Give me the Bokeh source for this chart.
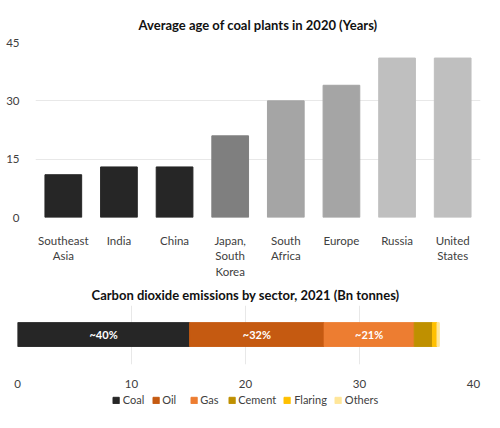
import numpy as np
from bokeh.plotting import figure
from bokeh.layouts import column
from bokeh.models import ColumnDataSource, FixedTicker, Range1d, Legend, LegendItem
from bokeh.core.properties import value
from bokeh.embed import file_html
from bokeh.resources import INLINE

# ---------------- data ----------------
countries = ["Southeast\nAsia", "India", "China", "Japan,\nSouth\nKorea",
             "South\nAfrica", "Europe", "Russia", "United\nStates"]
ages = [11, 13, 13, 21, 30, 34, 41, 41]
age_ticks = [0, 15, 30, 45]

sectors = ["Coal", "Oil", "Gas", "Cement", "Flaring", "Others"]
emissions = [15.1, 11.8, 7.9, 1.6, 0.4, 0.2]
share_labels = ["~40%", "~32%", "~21%"]
emission_ticks = [0, 10, 20, 30, 40]

# ---------------- styles ----------------
bar_colors = ["#262626", "#262626", "#262626", "#7f7f7f",
              "#a5a5a5", "#a5a5a5", "#bfbfbf", "#bfbfbf"]
sector_colors = ["#262626", "#c55a11", "#ed7d31", "#bf9000", "#ffc000", "#ffe699"]
FONT = "Lato"
GRID = "#e8e8e8"
TXT = "#404040"

W = 500

# ---------------- chart 1 ----------------
p1 = figure(x_range=countries, y_range=Range1d(0, 45), width=W, height=280,
            output_backend="svg", toolbar_location=None,
            title="Average age of coal plants in 2020 (Years)",
            min_border_left=35, min_border_right=20, min_border_top=42,
            min_border_bottom=57)
src1 = ColumnDataSource(dict(x=countries, top=ages, color=bar_colors))
p1.vbar(x="x", top="top", width=0.66, color="color", source=src1)
p1.title.align = "center"
p1.title.text_font = FONT
p1.title.text_font_size = "13px"
p1.title.text_color = "#111111"
p1.title.text_font_style = "bold"
p1.title.standoff = 20
p1.outline_line_color = None
p1.xgrid.grid_line_color = None
p1.ygrid.grid_line_color = GRID
p1.yaxis.ticker = FixedTicker(ticks=age_ticks)
for ax in (p1.xaxis, p1.yaxis):
    ax.axis_line_color = None
    ax.major_tick_line_color = None
    ax.minor_tick_line_color = None
    ax.major_label_text_font = FONT
    ax.major_label_text_font_size = "11.5px"
    ax.major_label_text_color = TXT
p1.yaxis.major_label_standoff = 10
p1.xaxis.major_label_standoff = 10
p1.x_range.range_padding = 0

# ---------------- chart 2 ----------------
p2 = figure(x_range=Range1d(0, 40), y_range=Range1d(0, 1), width=W, height=110,
            output_backend="svg", toolbar_location=None, y_axis_location=None,
            title="Carbon dioxide emissions by sector, 2021 (Bn tonnes)",
            min_border_left=17, min_border_right=27, min_border_top=25,
            min_border_bottom=23)
vals = np.array(emissions)
rights = np.cumsum(vals)
lefts = rights - vals
src2 = ColumnDataSource(dict(left=lefts.tolist(), right=rights.tolist(),
                             y=[0.508] * len(vals), color=sector_colors))
p2.hbar(y="y", left="left", right="right", height=0.403, color="color", source=src2)
mids = ((lefts + rights) / 2)[:3].tolist()
src3 = ColumnDataSource(dict(x=mids, y=[0.508] * 3, lab=share_labels))
p2.text(x="x", y="y", text="lab", source=src3, text_color="white",
        text_align="center", text_baseline="middle", text_font_size="11px",
        text_font_style="bold", text_font=value(FONT))
p2.title.align = "center"
p2.title.text_font = FONT
p2.title.text_font_size = "13px"
p2.title.text_color = "#111111"
p2.title.text_font_style = "bold"
p2.title.standoff = 6
p2.outline_line_color = None
p2.ygrid.grid_line_color = None
p2.xgrid.grid_line_color = GRID
p2.xaxis.ticker = FixedTicker(ticks=emission_ticks)
p2.xaxis.axis_line_color = None
p2.xaxis.major_tick_line_color = None
p2.xaxis.minor_tick_line_color = None
p2.xaxis.major_label_text_font = FONT
p2.xaxis.major_label_text_font_size = "11.5px"
p2.xaxis.major_label_text_color = TXT
p2.xaxis.major_label_standoff = 9

# ---------------- legend (own strip) ----------------
p3 = figure(x_range=Range1d(0, 1), y_range=Range1d(0, 1), width=W, height=38,
            output_backend="svg", toolbar_location=None,
            x_axis_location=None, y_axis_location=None,
            min_border_left=0, min_border_right=0, min_border_top=0,
            min_border_bottom=0)
p3.grid.visible = False
p3.outline_line_color = None
items = []
for i, s in enumerate(sectors):
    # dummy swatch renderer kept outside the visible range; only its legend glyph shows
    ri = p3.quad(left=[-3], right=[-2], bottom=[-3], top=[-2], color=sector_colors[i])
    items.append(LegendItem(label=s, renderers=[ri]))
legend = Legend(items=items, orientation="horizontal", location="top_center",
                glyph_width=8, glyph_height=8, label_standoff=3, spacing=7,
                padding=0, margin=3, border_line_color=None,
                background_fill_alpha=0, label_text_font=FONT,
                label_text_font_size="11px", label_text_color=TXT)
p3.add_layout(legend, "center")

layout = column(p1, column(p2, p3, spacing=0), spacing=0)
open("out.html", "w").write(file_html(layout, INLINE))
